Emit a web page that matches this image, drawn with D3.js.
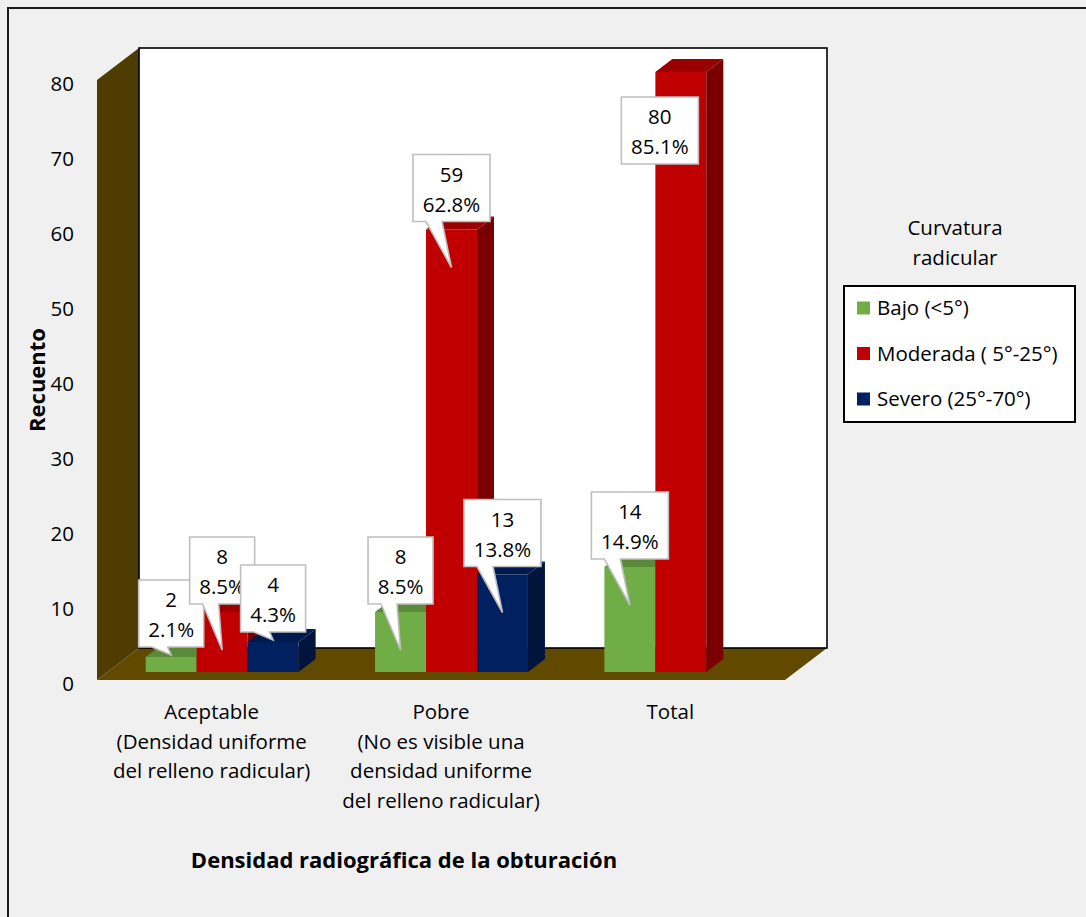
<!DOCTYPE html>
<html>
<head>
<meta charset="utf-8">
<script src="https://cdn.jsdelivr.net/npm/d3@7"></script>
<style>
  html, body { margin: 0; padding: 0; background: #f0f0f0; }
  svg { display: block; font-family: "Open Sans", "Noto Sans", sans-serif; }
</style>
</head>
<body>
<svg id="chart" width="1086" height="917"></svg>
<script>
// ---- data ----
const categories = ["Aceptable", "Pobre", "Total"];
const categoryLines = [
  ["Aceptable", "(Densidad uniforme", "del relleno radicular)"],
  ["Pobre", "(No es visible una", "densidad uniforme", "del relleno radicular)"],
  ["Total"]
];
const seriesNames = ["Bajo (<5°)", "Moderada ( 5°-25°)", "Severo (25°-70°)"];
const bajo = [2, 8, 14];
const moderada = [8, 59, 80];
const severo = [4, 13, null];
const bajoPct = ["2.1%", "8.5%", "14.9%"];
const moderadaPct = ["8.5%", "62.8%", "85.1%"];
const severoPct = ["4.3%", "13.8%", null];
const yTicks = [0, 10, 20, 30, 40, 50, 60, 70, 80];

// ---- styles ----
const faceColors = [
  { front: "#70ad47", top: "#5b8b3a", side: "#4a7230" },
  { front: "#c00000", top: "#9a0000", side: "#7a0000" },
  { front: "#002060", top: "#001a4e", side: "#00143c" }
];
const wallColor = "#4f3c00";
const floorColor = "#614a00";
const FONT = 20.5;

const seriesValues = [bajo, moderada, severo];
const seriesPct = [bajoPct, moderadaPct, severoPct];

const svg = d3.select("#chart");

// outer chart frame
svg.append("rect")
  .attr("x", 8).attr("y", 8).attr("width", 1120).attr("height", 960)
  .attr("fill", "#f0f0f0").attr("stroke", "#1a1a1a").attr("stroke-width", 2);

// ---- 3D oblique projection ----
const DX = 42, DY = -32;       // offset from front plane to back plane
const D0 = 0.25, D1 = 0.655;   // bar depth span
const x = d3.scaleBand().domain(categories).range([97, 785]);
const xs = d3.scaleBand().domain(d3.range(seriesNames.length))
  .range([0, x.bandwidth()]).paddingInner(0).paddingOuter(0.75);
const y = d3.scaleLinear().domain([0, 80]).range([680, 80]);
const P = (px, v, d) => [px + DX * d, y(v) + DY * d];
const poly = pts => "M" + pts.map(p => p.join(",")).join("L") + "Z";

const [xMin, xMax] = x.range();
const vTop = y.domain()[1];

// side wall
svg.append("path")
  .attr("d", poly([P(xMin, 0, 0), P(xMin, vTop, 0), P(xMin, vTop, 1), P(xMin, 0, 1)]))
  .attr("fill", wallColor);
// floor
svg.append("path")
  .attr("d", poly([P(xMin, 0, 0), P(xMax, 0, 0), P(xMax, 0, 1), P(xMin, 0, 1)]))
  .attr("fill", floorColor);
// back wall
const bw0 = P(xMin, vTop, 1), bw1 = P(xMax, 0, 1);
svg.append("rect")
  .attr("x", bw0[0]).attr("y", bw0[1])
  .attr("width", bw1[0] - bw0[0]).attr("height", bw1[1] - bw0[1])
  .attr("fill", "#ffffff").attr("stroke", "#000").attr("stroke-width", 1.6);

// ---- bars ----
const bars = [];
categories.forEach((c, i) => {
  seriesValues.forEach((vals, j) => {
    const v = vals[i];
    if (v == null) return;
    const xa = x(c) + xs(j), xb = xa + xs.bandwidth();
    bars.push({ c, i, j, v, xa, xb, pct: seriesPct[j][i] });
  });
});

const barG = svg.append("g");
bars.forEach(b => {
  const col = faceColors[b.j];
  const g = barG.append("g");
  // front face
  g.append("path")
    .attr("d", poly([P(b.xa, 0, D0), P(b.xb, 0, D0), P(b.xb, b.v, D0), P(b.xa, b.v, D0)]))
    .attr("fill", col.front);
  // top face
  g.append("path")
    .attr("d", poly([P(b.xa, b.v, D0), P(b.xb, b.v, D0), P(b.xb, b.v, D1), P(b.xa, b.v, D1)]))
    .attr("fill", col.top);
  // right side face
  g.append("path")
    .attr("d", poly([P(b.xb, 0, D0), P(b.xb, b.v, D0), P(b.xb, b.v, D1), P(b.xb, 0, D1)]))
    .attr("fill", col.side);
});

// ---- y axis ----
const yAxis = d3.axisLeft(y).tickValues(yTicks).tickSize(0).tickPadding(23);
const yG = svg.append("g").attr("transform", `translate(${xMin},0)`).call(yAxis);
yG.select(".domain").remove();
yG.selectAll("text")
  .attr("dy", 10)
  .attr("font-family", "Open Sans, sans-serif")
  .attr("font-size", FONT).attr("fill", "#000");

// ---- category axis ----
const xAxis = d3.axisBottom(x).tickSize(0).tickPadding(0);
const xG = svg.append("g").attr("transform", `translate(0,${y(0)})`).call(xAxis);
xG.select(".domain").remove();
xG.selectAll("text")
  .attr("font-family", "Open Sans, sans-serif")
  .attr("font-size", FONT).attr("fill", "#000")
  .attr("y", 0).attr("dy", null)
  .each(function (d) {
    const lines = categoryLines[categories.indexOf(d)];
    const t = d3.select(this).text(null);
    lines.forEach((ln, k) => {
      t.append("tspan").attr("x", 0).attr("y", 39 + k * 29.5).text(ln);
    });
  });

// ---- axis titles ----
svg.append("text")
  .attr("transform", "translate(44.5,380) rotate(-90)")
  .attr("text-anchor", "middle")
  .attr("font-weight", "bold").attr("font-size", 22)
  .text("Recuento");
svg.append("text")
  .attr("x", 404).attr("y", 868)
  .attr("text-anchor", "middle")
  .attr("font-weight", "bold").attr("font-size", 22)
  .text("Densidad radiográfica de la obturación");

// ---- data callouts ----
const calloutNudge = { "Total|1": { dx: -21, minTop: 97 } };
const callG = svg.append("g");
bars.forEach(b => {
  const cx = (b.xa + b.xb) / 2 + DX * D0;
  const top = y(b.v) + DY * D0;
  const h = y(0) - y(b.v);
  const tall = h >= 50;
  const tipX = cx;
  const tipY = tall ? top + 38 : top - 2;
  let bottom = tall ? tipY - 46 : tipY - 8;

  const g = callG.append("g");
  const shape = g.append("path");
  const t1 = g.append("text").attr("text-anchor", "middle")
    .attr("font-size", FONT).attr("fill", "#000").text(String(b.v));
  const t2 = g.append("text").attr("text-anchor", "middle")
    .attr("font-size", FONT).attr("fill", "#000").text(b.pct);
  const tw = Math.max(t1.node().getComputedTextLength(), t2.node().getComputedTextLength());
  const w = Math.round(tw + 19), hBox = 67;

  let left = cx - w / 2;
  let boxTop = bottom - hBox;
  const nudge = calloutNudge[b.c + "|" + b.j];
  if (nudge) {
    left += nudge.dx;
    if (boxTop < nudge.minTop) boxTop = nudge.minTop;
  }
  bottom = boxTop + hBox;
  const right = left + w;

  const inside = tipX > left && tipX < right && tipY > boxTop && tipY < bottom;
  const d = inside
    ? `M${left},${boxTop}H${right}V${bottom}H${left}Z`
    : `M${left},${boxTop}H${right}V${bottom}H${left + 29}L${tipX},${tipY}L${left + 13},${bottom}H${left}Z`;
  shape.attr("d", d).attr("fill", "#fff")
    .attr("stroke", "#bfbfbf").attr("stroke-width", 1.6).attr("stroke-linejoin", "miter");

  const mid = left + w / 2;
  t1.attr("x", mid).attr("y", boxTop + 20 + 7.3);
  t2.attr("x", mid).attr("y", boxTop + 50 + 7.3);
});

// ---- legend ----
svg.append("text").attr("x", 955).attr("y", 235).attr("text-anchor", "middle")
  .attr("font-size", FONT).text("Curvatura");
svg.append("text").attr("x", 955).attr("y", 265).attr("text-anchor", "middle")
  .attr("font-size", FONT).text("radicular");
svg.append("rect")
  .attr("x", 844).attr("y", 286).attr("width", 231).attr("height", 136)
  .attr("fill", "#fff").attr("stroke", "#000").attr("stroke-width", 2);
const legY = d3.scalePoint().domain(seriesNames).range([308, 399]);
const leg = svg.append("g").selectAll("g").data(seriesNames).join("g")
  .attr("transform", d => `translate(857,${legY(d)})`);
leg.append("rect").attr("x", 0).attr("y", -6.5).attr("width", 13).attr("height", 13)
  .attr("fill", (d, k) => faceColors[k].front);
leg.append("text").attr("x", 20).attr("y", 7.3)
  .attr("font-size", FONT).attr("fill", "#000").text(d => d);
</script>
</body>
</html>
